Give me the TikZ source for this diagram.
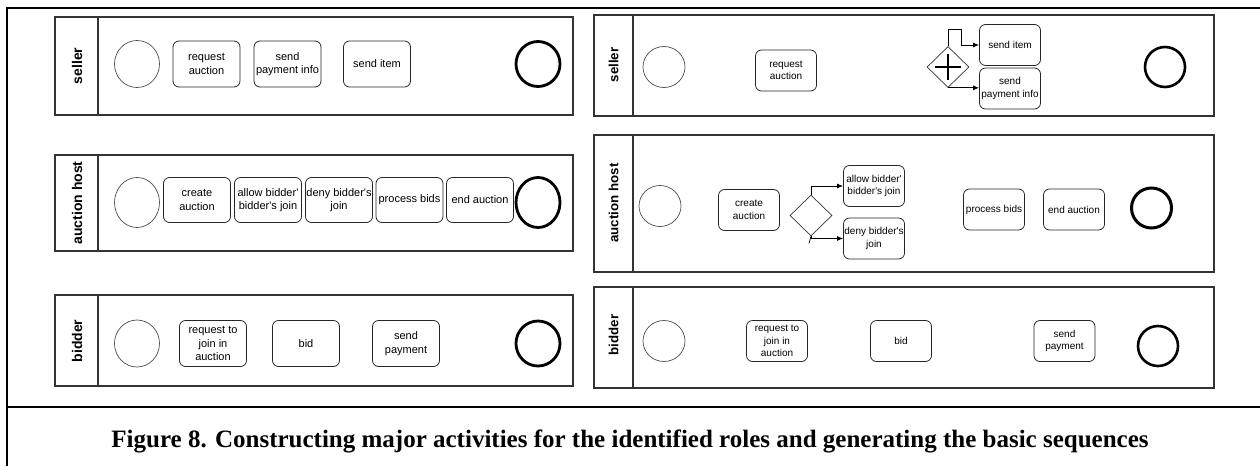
\documentclass[tikz,border=0pt]{standalone}
\usepackage{fontspec}
\setmainfont{Liberation Serif}
\newfontfamily\arialf{Liberation Sans}
\usetikzlibrary{shapes.geometric,arrows.meta,calc}
\begin{document}
\begin{tikzpicture}[x=1pt,y=-1pt,
  pool/.style={draw=black!80, line width=1.3pt},
  lanelab/.style={rotate=90, font=\arialf\bfseries\fontsize{14}{16}\selectfont, inner sep=0pt},
  rlanelab/.style={rotate=90, font=\arialf\bfseries\fontsize{13.3}{15}\selectfont, inner sep=0pt},
  task/.style={draw=black!85, rounded corners=6pt, line width=0.8pt, align=center, inner sep=0pt,
    font=\arialf\fontsize{11}{13.5}\selectfont, minimum width=67pt, minimum height=46pt},
  rtask/.style={draw=black!85, rounded corners=6pt, line width=0.8pt, align=center, inner sep=0pt,
    font=\arialf\fontsize{10}{12.5}\selectfont, minimum width=61pt, minimum height=41pt},
  startev/.style={ellipse, draw=black!70, line width=0.7pt, inner sep=0pt, minimum width=45pt, minimum height=47pt},
  endev/.style={ellipse, draw=black, line width=2.8pt, inner sep=0pt, minimum width=44pt, minimum height=45pt},
  rstartev/.style={ellipse, draw=black!70, line width=0.7pt, inner sep=0pt, minimum width=42pt, minimum height=41pt},
  rendev/.style={ellipse, draw=black, line width=2.6pt, inner sep=0pt, minimum width=40pt, minimum height=40pt},
  gw/.style={diamond, draw=black!80, line width=0.7pt, inner sep=0pt, minimum width=42pt, minimum height=41pt},
  flow/.style={draw=black, line width=0.8pt, -{Latex[length=6pt,width=5pt]}},
  frame/.style={draw=black, line width=2.5pt}
]
\useasboundingbox (0,0) rectangle (1260,466);
% outer frame
\draw[frame] (7,466) -- (7,8) -- (1262,8);
\draw[frame] (7,407) -- (1262,407);

% ===== left column =====
% seller
\draw[pool] (55,17) rectangle (573,115);
\draw[pool] (98,17) -- (98,115);
\node[lanelab] (ls) at (77,66) {seller};
\node[startev] (ls0) at (137,64) {};
\node[task] (ls1) at (206.5,64) {request\\auction};
\node[task] (ls2) at (287.5,64) {send\\payment info};
\node[task] (ls3) at (377,64) {send item};
\node[endev] (ls9) at (538,64) {};

% auction host
\draw[pool] (55,155) rectangle (573,251);
\draw[pool] (98,155) -- (98,251);
\node[lanelab] (la) at (77,203) {auction host};
\node[startev, minimum height=50pt] (la0) at (137,202.5) {};
\node[task, minimum height=45pt] (la1) at (197,200) {create\\auction};
\node[task, minimum height=45pt] (la2) at (268,200) {allow bidder'\\bidder's join};
\node[task, minimum height=45pt] (la3) at (339,200) {deny bidder's\\join};
\node[task, minimum height=45pt] (la4) at (409.5,200) {process bids};
\node[task, minimum height=45pt] (la5) at (480,200) {end auction};
\node[endev, minimum height=50pt] (la9) at (538,202.5) {};

% bidder
\draw[pool] (55,295) rectangle (573,386);
\draw[pool] (98,295) -- (98,386);
\node[lanelab] (lb) at (77,341) {bidder};
\node[startev] (lb0) at (137,343.5) {};
\node[task] (lb1) at (213,343.5) {request to\\join in\\auction};
\node[task] (lb2) at (306,343.5) {bid};
\node[task] (lb3) at (406,343.5) {send\\payment};
\node[endev] (lb9) at (538,343.5) {};

% ===== right column =====
% seller
\draw[pool] (594,15) rectangle (1214,116);
\draw[pool] (633,15) -- (633,116);
\node[rlanelab] (rs) at (613.5,65) {seller};
\node[rstartev] (rs0) at (664,67) {};
\node[rtask] (rs1) at (786,70.5) {request\\auction};
\node[gw] (g1) at (948,67) {};
\draw[black, line width=2pt] ($(g1.center)+(-13,0)$) -- ($(g1.center)+(13,0)$);
\draw[black, line width=2pt] ($(g1.center)+(0,-13)$) -- ($(g1.center)+(0,13)$);
\node[rtask] (rs2) at (1010,45) {send item};
\node[rtask] (rs3) at (1010,88.5) {send\\payment info};
\node[rendev] (rs9) at (1165,67) {};
\draw[flow] (g1.north) -- (g1.north |- 0,29) -- (961,29) -- (961,45) -- (rs2.west);
\draw[flow] (g1.south) -- (g1.south -| rs3.west);

% auction host
\draw[pool] (594,135) rectangle (1214,272);
\draw[pool] (633,135) -- (633,272);
\node[rlanelab] (ra) at (613.5,203) {auction host};
\node[rstartev] (ra0) at (660,206) {};
\node[rtask] (ra1) at (749,210) {create\\auction};
\node[gw] (g2) at (811,215.5) {};
\node[rtask] (ra2) at (874,186) {allow bidder'\\bidder's join};
\node[rtask] (ra3) at (874,238.5) {deny bidder's\\join};
\node[rtask] (ra4) at (994,209.5) {process bids};
\node[rtask] (ra5) at (1074,209.5) {end auction};
\node[rendev, line width=3pt] (ra9) at (1151.5,208) {};
\draw[flow] (g2.north) |- (ra2.west);
\draw[flow] (g2.south) |- (ra3.west);
\draw[black, line width=0.7pt] (g2.south) -- ++(-2,7);

% bidder
\draw[pool] (594,287) rectangle (1214,388);
\draw[pool] (633,287) -- (633,388);
\node[rlanelab] (rb) at (613.5,335) {bidder};
\node[rstartev] (rb0) at (664,341) {};
\node[rtask] (rb1) at (777,341) {request to\\join in\\auction};
\node[rtask] (rb2) at (901,341) {bid};
\node[rtask] (rb3) at (1064.5,341) {send\\payment};
\node[rendev] (rb9) at (1158,346) {};

% caption
\node[font=\bfseries\fontsize{25}{28}\selectfont, inner sep=0pt, anchor=base] (cap) at (630,447)
  {Figure 8. Constructing major activities for the identified roles and generating the basic sequences};
\end{tikzpicture}
\end{document}
